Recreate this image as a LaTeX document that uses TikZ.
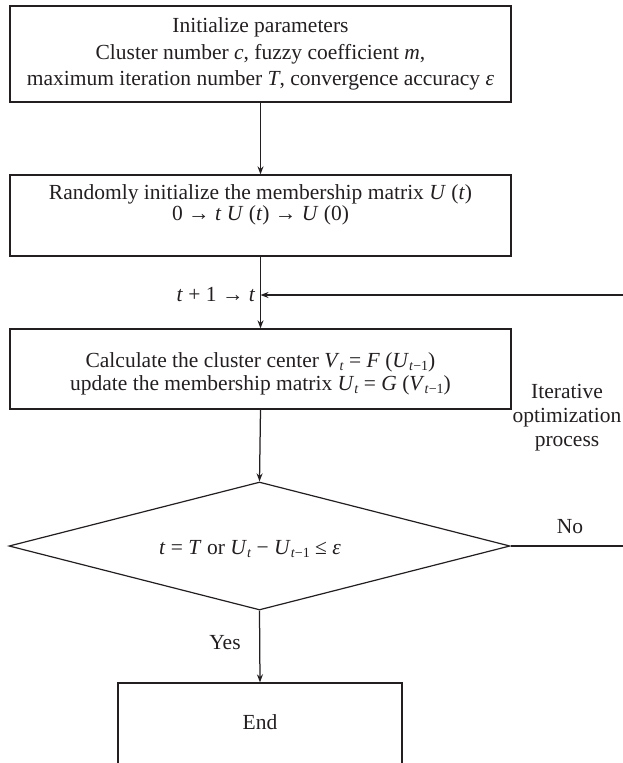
\documentclass[tikz,border=0pt]{standalone}
\usepackage{fontspec}
\setmainfont{Liberation Serif}
\usetikzlibrary{shapes.geometric,arrows.meta,calc}
\newcommand\lsub[1]{\raisebox{-0.25ex}{\fontsize{14}{14}\selectfont #1}}
\newcommand\mi[1]{\textit{#1}}
\definecolor{ink}{HTML}{231F20}
\begin{document}
\begin{tikzpicture}[x=1pt,y=-1pt,
  every node/.style={text=ink},
  txt/.style={font=\fontsize{21.5}{21}\selectfont, align=center, inner sep=0},
  txtA/.style={font=\fontsize{21.5}{26.5}\selectfont, align=center, inner sep=0},
  box/.style={draw=ink, line width=1.3pt, rectangle, inner sep=0, minimum width=501pt},
  dia/.style={draw=ink, line width=1.2pt, diamond, inner sep=0, minimum width=501pt, minimum height=128pt, shape aspect=3.9},
  conn/.style={draw=ink, line width=1.25pt},
  arr/.style={conn, -{Stealth[length=8pt,width=6pt]}}]
\useasboundingbox (0,0) rectangle (623,763);
\clip (0,0) rectangle (623,763);

\node[box, minimum height=96pt, txtA] (b1) at (260.5,54)
  {Initialize parameters\\
   Cluster number \mi{c}, fuzzy coefficient \mi{m},\\
   maximum iteration number \mi{T}, convergence accuracy \mi{ε}};

\node[box, minimum height=81pt] (b2) at (260.5,215.5) {};
\node[txt] (t2) at (260.5,205)
  {Randomly initialize the membership matrix \mi{U} (\mi{t})\\
   0 → \mi{t} \mi{U} (\mi{t}) → \mi{U} (0)};

\node[box, minimum height=80pt] (b3) at (260.5,369) {};
\node[txt, font=\fontsize{21.5}{23}\selectfont] (t3) at (260.5,374)
  {Calculate the cluster center \mi{V}\lsub{\mi{t}} = \mi{F} (\mi{U}\lsub{\mi{t}−1})\\
   update the membership matrix \mi{U}\lsub{\mi{t}} = \mi{G} (\mi{V}\lsub{\mi{t}−1})};

\node[dia] (d) at (259.5,546) {};
\node[txt] (dt) at (250,549) {\mi{t} = \mi{T} or \mi{U}\lsub{\mi{t}} − \mi{U}\lsub{\mi{t}−1} ≤ \mi{ε}};

\node[box, minimum width=284pt, minimum height=92pt] (e) at (260,729) {};
\node[txt] (et) at (260,722) {End};

\coordinate (J) at (260.5,295);

\draw[arr] (b1.south) -- (b2.north);
\draw[arr] (b2.south) -- (b3.north);
\draw[arr] (d.east) -- ++(130,0) |- (J);
\draw[arr] (b3.south) -- (d.north);
\draw[arr] (d.south) -- (e.north);

\node[txt, anchor=east] (lt) at ($(J)+(-5,0)$) {\mi{t} + 1 → \mi{t}};
\node[txt, font=\fontsize{21.5}{24}\selectfont] (io) at (567,418) {Iterative\\optimization\\process};
\node[txt] (no) at (570,527) {No};
\node[txt] (yes) at (225,643) {Yes};
\end{tikzpicture}
\end{document}
